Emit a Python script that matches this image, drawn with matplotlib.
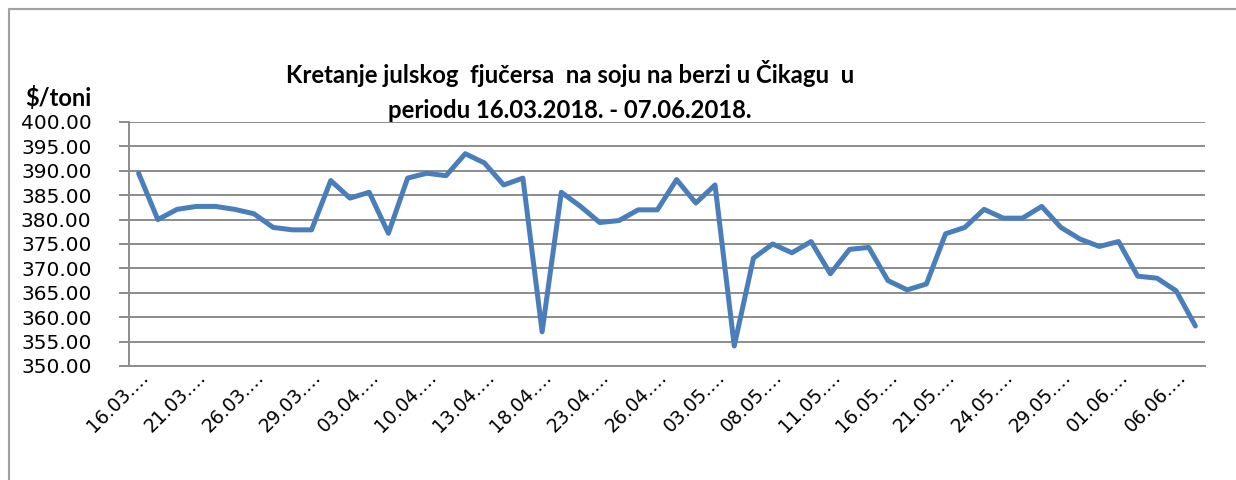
import matplotlib
matplotlib.use("Agg")
import matplotlib.pyplot as plt
from matplotlib.lines import Line2D

# cijene julskog fjučersa na soju, $/toni (očitano s grafikona)
prices = [389.5, 380.0, 382.1, 382.7, 382.7, 382.1, 381.2, 378.4, 377.9, 377.9,
          388.0, 384.4, 385.6, 377.2, 388.5, 389.5, 389.0, 393.5, 391.6, 387.1,
          388.5, 357.0, 385.6, 382.7, 379.4, 379.8, 382.0, 382.0, 388.2, 383.4,
          387.1, 354.1, 372.1, 375.0, 373.2, 375.5, 368.9, 373.9, 374.3, 367.5,
          365.6, 366.8, 377.1, 378.4, 382.1, 380.3, 380.3, 382.7, 378.4, 376.0,
          374.5, 375.5, 368.4, 368.0, 365.4, 358.2]
# oznake datuma na svakoj trećoj tački
tick_labels = ["16.03.…", "21.03.…", "26.03.…", "29.03.…", "03.04.…", "10.04.…",
               "13.04.…", "18.04.…", "23.04.…", "26.04.…", "03.05.…", "08.05.…",
               "11.05.…", "16.05.…", "21.05.…", "24.05.…", "29.05.…", "01.06.…",
               "06.06.…"]
y_ticks = [350, 355, 360, 365, 370, 375, 380, 385, 390, 395, 400]

W, H = 1236, 480
fig = plt.figure(figsize=(W / 100, H / 100), dpi=100)
ax = fig.add_axes([129 / W, 1 - 366 / H, (1205 - 129) / W, (366 - 122) / H])

x = list(range(len(prices)))
ax.plot(x, prices, color="#4a7ebb", linewidth=3.6,
        solid_joinstyle="round", solid_capstyle="round", zorder=3)

ax.set_xlim(-0.5, len(prices) - 0.5)
ax.set_ylim(350, 400)
ax.set_yticks(y_ticks)
ax.set_yticklabels([f"{v:.2f}" for v in y_ticks], fontsize=14.5, family="DejaVu Sans")
ax.set_xticks(x[::3])
ax.set_xticklabels(tick_labels, fontsize=13.5, family="DejaVu Sans",
                   rotation=45, ha="right", va="top", rotation_mode="anchor")

ax.grid(axis="y", color="#8c8c8c", linewidth=1.4, zorder=1)
for s in ["top", "right"]:
    ax.spines[s].set_visible(False)
ax.spines["left"].set_color("#8c8c8c")
ax.spines["left"].set_linewidth(1.4)
ax.spines["bottom"].set_color("#8c8c8c")
ax.spines["bottom"].set_linewidth(1.4)
ax.tick_params(axis="y", length=7, width=1.4, color="#8c8c8c", pad=20)
ax.tick_params(axis="x", length=0, pad=1)

fig.text(570 / W, 1 - 91 / H,
         "Kretanje julskog  fjučersa  na soju na berzi u Čikagu  u\nperiodu 16.03.2018. - 07.06.2018.",
         ha="center", va="center", fontsize=17.2, fontweight="bold",
         family="Lato", linespacing=1.6)
fig.text(25 / W, 1 - 98 / H, "$/toni", ha="left", va="center",
         fontsize=17, fontweight="bold", family="Lato")

# okvir grafikona
fig.add_artist(Line2D([9 / W, 9 / W, 1], [0, 1 - 9 / H, 1 - 9 / H],
                      transform=fig.transFigure, color="#a0a0a0", linewidth=1.5))

fig.savefig("out.png", dpi=100)
